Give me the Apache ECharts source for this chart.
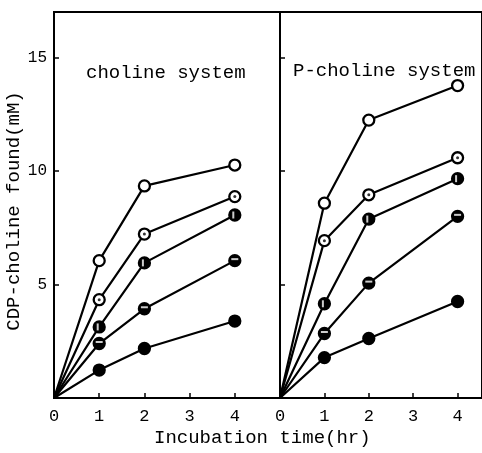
<!DOCTYPE html>
<html>
<head>
<meta charset="utf-8">
<script src="https://cdn.jsdelivr.net/npm/echarts@6/dist/echarts.min.js"></script>
<style>
  html, body { margin: 0; padding: 0; background: #fff; }
  #chart { width: 482px; height: 453px; }
</style>
</head>
<body>
<div id="chart"></div>
<script>
  // incubation time (hr)
  var hours = [0, 1, 2, 4];
  var xTicks = [0, 1, 2, 3, 4];
  var yTicks = [5, 10, 15];
  var panelTitles = ['choline system', 'P-choline system'];

  // CDP-choline found (mM), choline system
  var cholOpen = [0, 6.05, 9.34, 10.26];
  var cholDot = [0, 4.33, 7.22, 8.87];
  var cholVert = [0, 3.13, 5.95, 8.06];
  var cholHoriz = [0, 2.40, 3.93, 6.05];
  var cholFilled = [0, 1.23, 2.18, 3.39];

  // CDP-choline found (mM), P-choline system
  var pcholOpen = [0, 8.58, 12.24, 13.76];
  var pcholDot = [0, 6.93, 8.95, 10.58];
  var pcholVert = [0, 4.15, 7.88, 9.66];
  var pcholHoriz = [0, 2.84, 5.06, 8.00];
  var pcholFilled = [0, 1.78, 2.62, 4.25];

  var font = '"Liberation Mono", "DejaVu Sans Mono", monospace';

  function pts(vals) {
    return hours.map(function (h, i) {
      if (i === 0) return { value: [h, vals[i]], symbol: 'none' };
      return [h, vals[i]];
    });
  }
  function marks(vals) {
    return hours.slice(1).map(function (h, i) { return [h, vals[i + 1]]; });
  }

  function lineSeries(idx, vals, fill) {
    return {
      type: 'line', xAxisIndex: idx, yAxisIndex: idx,
      data: pts(vals),
      symbol: 'circle', symbolSize: 11,
      lineStyle: { color: '#000', width: 2.2 },
      itemStyle: { color: fill, borderColor: '#000', borderWidth: 2.3 },
      z: 3
    };
  }
  function overlay(idx, vals, symbol, size, offset, color) {
    return {
      type: 'scatter', xAxisIndex: idx, yAxisIndex: idx,
      data: marks(vals),
      symbol: symbol, symbolSize: size, symbolOffset: offset,
      itemStyle: { color: color },
      silent: true, z: 4
    };
  }

  function panel(idx, op, dot, vert, horiz, filled) {
    return [
      lineSeries(idx, op, '#fff'),
      lineSeries(idx, dot, '#fff'),
      overlay(idx, dot, 'circle', 3, [0, 0], '#000'),
      lineSeries(idx, vert, '#000'),
      overlay(idx, vert, 'rect', [2, 7], [-1.5, 0], '#fff'),
      lineSeries(idx, horiz, '#000'),
      overlay(idx, horiz, 'rect', [7, 2], [0, -1.5], '#fff'),
      lineSeries(idx, filled, '#000')
    ];
  }

  var tickFmt = function (v) { return xTicks.indexOf(v) >= 0 ? String(v) : ''; };

  function xAxis(idx, max) {
    return {
      type: 'value', gridIndex: idx, min: 0, max: max, interval: 1,
      axisLine: { show: true, lineStyle: { color: '#000', width: 2 } },
      axisTick: { show: true, inside: true, length: 5, lineStyle: { color: '#000', width: 1.5 } },
      axisLabel: { color: '#000', fontFamily: font, fontSize: 17, margin: 10,
                   showMaxLabel: false, formatter: tickFmt },
      splitLine: { show: false }
    };
  }
  function yAxis(idx, showLabels) {
    return {
      type: 'value', gridIndex: idx, min: 0, max: 17, interval: 5,
      axisLine: { show: true, lineStyle: { color: '#000', width: 2 } },
      axisTick: { show: true, inside: true, length: 5, lineStyle: { color: '#000', width: 1.5 } },
      axisLabel: { show: showLabels, color: '#000', fontFamily: font, fontSize: 16, margin: 7,
                   formatter: function (v) { return yTicks.indexOf(v) >= 0 ? String(v) : ''; } },
      splitLine: { show: false },
      name: showLabels ? 'CDP-choline found(mM)' : '',
      nameLocation: 'middle', nameGap: 29,
      nameTextStyle: { color: '#000', fontFamily: font, fontSize: 19, padding: [0, 0, 0, -12] }
    };
  }

  var chart = echarts.init(document.getElementById('chart'));
  chart.setOption({
    animation: false,
    backgroundColor: '#fff',
    grid: [
      { left: 54, top: 12, width: 226, bottom: 55, show: true, borderColor: '#000', borderWidth: 2, backgroundColor: 'transparent' },
      { left: 280, top: 12, right: -4, bottom: 55, show: true, borderColor: '#000', borderWidth: 2, backgroundColor: 'transparent' }
    ],
    title: [
      { text: panelTitles[0], left: 81, top: 58, textStyle: { color: '#000', fontFamily: font, fontSize: 19, fontWeight: 'normal' } },
      { text: panelTitles[1], left: 288, top: 56, textStyle: { color: '#000', fontFamily: font, fontSize: 19, fontWeight: 'normal' } }
    ],
    graphic: [
      { type: 'text', left: 154, top: 428,
        style: { text: 'Incubation time(hr)', fill: '#000', font: '19px ' + font } }
    ],
    xAxis: [xAxis(0, 5), xAxis(1, 4.55)],
    yAxis: [yAxis(0, true), yAxis(1, false)],
    series: panel(0, cholOpen, cholDot, cholVert, cholHoriz, cholFilled)
      .concat(panel(1, pcholOpen, pcholDot, pcholVert, pcholHoriz, pcholFilled))
  });
</script>
</body>
</html>
